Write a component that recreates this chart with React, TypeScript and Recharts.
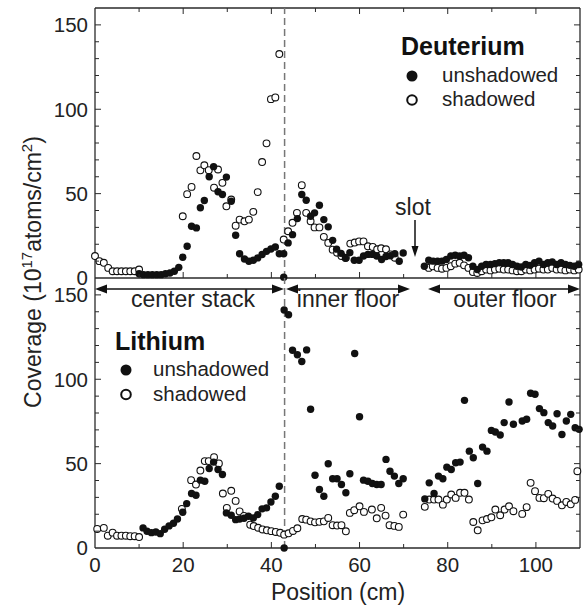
import React from "react";
import { ScatterChart, Scatter, XAxis, YAxis, ReferenceLine } from "recharts";

// ---------- data ----------
const deutShadowed: [number, number][] = [
  [0, 13], [1, 10], [2, 9], [3, 6], [4, 4], [5, 4], [6, 4], [7, 4], [8, 4], [9, 4], [10, 5],
  [19.9, 36.6], [20.9, 49.7], [21.9, 54], [23, 72.3], [23.9, 63.8], [24.8, 66.8], [25.8, 63.9],
  [27, 53.5], [27.9, 64.3], [28.9, 56.4], [29.8, 42.5], [30.9, 46.5], [31.9, 31], [32.8, 34.6],
  [33.9, 33.6], [34.9, 34.6], [35.9, 39.2], [36.9, 50.9], [37.9, 68.7], [38.9, 79.8], [39.9, 106],
  [40.9, 107], [41.8, 132.7],
  [42.8, 22.8], [43.8, 27.7], [44.8, 32.7], [45.8, 38.6], [46.9, 55], [47.9, 38.6], [48.9, 33.6],
  [49.8, 30], [50.9, 30], [51.9, 24.4], [52.9, 20.8], [53.9, 16.8], [54.9, 15], [55.9, 13], [56.9, 12],
  [57.9, 20.4], [58.9, 21], [59.9, 21.7], [60.9, 21.7], [61.9, 18.8], [63, 18.4], [64, 17], [64.9, 17.6],
  [66, 17], [67, 14], [68, 12],
  [75.7, 6], [76.6, 6.9], [77.7, 6], [78.7, 5.5], [79.7, 6], [80.7, 7], [81.7, 8.5], [82.7, 9],
  [83.7, 7.5], [84.7, 6], [85.7, 3.5], [86.7, 3], [87.7, 4], [88.7, 5], [89.7, 4.5], [90.7, 5],
  [91.7, 5.5], [92.7, 5], [93.7, 5], [94.7, 4.5], [95.7, 4], [96.7, 4], [97.7, 5], [98.7, 4.5],
  [99.7, 5], [100.7, 5.5], [101.7, 5], [102.7, 5], [103.7, 6], [104.7, 5], [105.7, 5], [106.7, 4.5],
  [107.7, 5], [108.7, 4.5], [109.7, 5],
];

const deutUnshadowed: [number, number][] = [
  [10, 2.5], [11, 2], [12, 2], [13, 2], [14, 2], [15, 2], [16, 2.5], [17, 3], [18, 4], [19, 6.3],
  [19.9, 12.3], [20.9, 18.8], [21.9, 30.7], [23, 29.7], [23.9, 41.6], [24.8, 45.9], [25.9, 60],
  [26.9, 66], [27.9, 51.1], [28.9, 49.5], [29.8, 59.8], [30.9, 45.5], [31.9, 25.3], [32.8, 14.4],
  [33.9, 11.3], [34.9, 9.9], [35.9, 10.5], [36.9, 11.9], [37.9, 13.9], [38.9, 15.8], [39.9, 17.2],
  [40.9, 18.4], [41.8, 14.4], [42.8, 14.4], [42.8, 0.5], [43.8, 20.8], [44.8, 25.7], [45.9, 35.2],
  [46.9, 49.5], [47.9, 46.1], [48.9, 36.6], [49.8, 38.6], [50.9, 43.1], [51.9, 34.6], [52.9, 30.3],
  [53.9, 22.3], [54.8, 17.1], [55.8, 14.6], [56.8, 11.7], [57.8, 15], [58.8, 10.5], [59.9, 10.5],
  [60.9, 13], [61.9, 14], [62.9, 14], [63.9, 13], [65, 11], [66, 12.7], [67, 13.2], [68, 14.4],
  [69, 9.9], [69.9, 14.8],
  [74.7, 7], [75.7, 10.5], [76.7, 10], [77.7, 10], [78.7, 10], [79.7, 11], [80.7, 13], [81.7, 13.5],
  [82.7, 13], [83.7, 13.5], [84.7, 12], [85.7, 7], [86.7, 5], [87.7, 7], [88.7, 8], [89.7, 8],
  [90.7, 8.5], [91.7, 9], [92.7, 9], [93.7, 9], [94.7, 8], [95.7, 7], [96.7, 6.5], [97.7, 8],
  [98.7, 7.5], [99.7, 9], [100.7, 10], [101.7, 8], [102.7, 9], [103.7, 9.5], [104.7, 8], [105.7, 9],
  [106.7, 8], [107.7, 7.5], [108.7, 7], [109.7, 8],
];

const liShadowed: [number, number][] = [
  [0.5, 11.3], [2, 11.9], [2.9, 7.3], [4, 9.1], [5, 7.3], [6, 7.3], [7, 7.3], [8, 7], [9, 7], [10, 6.5],
  [19.7, 23.2], [21.8, 40.2], [22.9, 37.6], [23.9, 45.9], [24.9, 51.5], [25.8, 51.5], [27, 53.8],
  [28.1, 50.1], [29, 32.3], [29.9, 23.8], [30.9, 33.9], [31.9, 27.9], [32.8, 21.7], [33.8, 19],
  [35.2, 13.8], [36, 13], [37, 12], [38, 11], [39, 10.5], [40, 10], [41, 9.5], [42, 9], [42.9, 7.9],
  [43.9, 8.7], [44.9, 10.1], [45.9, 11.7], [47, 17.2], [47.9, 16.8], [48.9, 15.8], [49.9, 15.2],
  [50.9, 15.5], [51.9, 15.8], [52.9, 17.8], [53.9, 13.5], [54.9, 13.3], [55.9, 13.5], [56.9, 9.9],
  [57.8, 20.8], [58.8, 22.4], [60, 24.7], [61, 21.4], [62.8, 22.8], [63.9, 17.6], [64.9, 23.8],
  [65.9, 19.2], [66.8, 13.5], [67.9, 13.1], [68.9, 12.5], [69.9, 19.8],
  [74.8, 24.4], [75.8, 28.7], [76.9, 28.7], [77.9, 28.7], [78.9, 25.7], [79.8, 28.7], [80.8, 31.7],
  [81.8, 29.7], [82.8, 32.7], [83.8, 32.7], [84.8, 28.7], [85.8, 15.4], [86.8, 10.5], [87.9, 16.4],
  [88.9, 17.2], [89.9, 18.2], [90.8, 22.8], [91.9, 19.4], [92.9, 22.8], [93.9, 24.7], [94.9, 21.8],
  [96.9, 20.2], [97.9, 24.2], [98.8, 38.6], [99.8, 33.7], [100.8, 29.7], [101.8, 29.5], [102.8, 32.1],
  [103.8, 29.3], [104.8, 27.9], [105.9, 25.3], [106.9, 27.3], [107.9, 25.9], [108.9, 28.5], [109.4, 45.5],
];

const liUnshadowed: [number, number][] = [
  [10.9, 11.9], [11.8, 9.9], [12.8, 9.1], [13.8, 9.5], [14.8, 8.5], [15.8, 11.1], [16.8, 13.1],
  [17.8, 14.7], [18.7, 17.2], [19.9, 21.2], [20.8, 26.3], [21.9, 32.3], [22.9, 31.3], [23.9, 40.2],
  [24.9, 39.6], [25.9, 47.1], [26.9, 50.9], [27.9, 46.5], [28.9, 43.6], [29.8, 20.8], [30.9, 19.4],
  [31.9, 16.8], [32.8, 17.2], [33.8, 17.6], [34.8, 18.8], [35.9, 17.8], [36.9, 19.8], [37.9, 23.2],
  [38.9, 23.8], [39.9, 27.3], [40.9, 30.7], [41.8, 36.6], [42.9, 0], [42.9, 141], [43.9, 138.2],
  [44.8, 117.2], [45.9, 114.5], [46.9, 110.5], [48, 117.4], [48.9, 82.2], [49.9, 43.1], [50.9, 34.7],
  [51.9, 30.7], [52.9, 49.9], [53.9, 41], [54.9, 41], [55.9, 37.6], [56.9, 32.7], [57.8, 44],
  [58.9, 115.3], [60, 77.8], [60.9, 40.2], [61.9, 39.6], [62.9, 38.2], [63.9, 37.6], [64.9, 37.6],
  [66, 52.5], [66.9, 45.5], [67.9, 42.6], [68.9, 38.2], [69.9, 41],
  [74.8, 29.1], [75.8, 38.6], [76.9, 32.3], [77.9, 42.6], [78.9, 41], [79.8, 47.9], [80.8, 46.5],
  [81.8, 50.5], [82.8, 50.9], [83.8, 87.5], [84.9, 57.4], [85.8, 53.5], [86.8, 38.2], [87.9, 59.8],
  [88.9, 57.4], [89.9, 69.7], [90.8, 68.7], [91.9, 67], [92.8, 74.3], [93.9, 86.5], [94.9, 73.3],
  [96.9, 75.3], [97.9, 76.3], [98.8, 91.7], [99.8, 91.1], [100.8, 82.6], [101.8, 80.2], [102.8, 74.3],
  [103.8, 72.3], [104.8, 79.6], [105.9, 67.3], [106.9, 75.3], [107.9, 79.2], [108.9, 71.3], [109.8, 70.3],
];

const X_TICKS = [0, 10, 20, 30, 40, 50, 60, 70, 80, 90, 100, 110];
const X_LABELS = [0, 20, 40, 60, 80, 100];
const Y_TICKS = [0, 10, 20, 30, 40, 50, 60, 70, 80, 90, 100, 110, 120, 130, 140, 150];
const Y_LABELS = [0, 50, 100, 150];
const X_DOMAIN: [number, number] = [0, 110];
const Y_DOMAIN: [number, number] = [0, 160];
const DIVIDER_X = 43;

// ---------- style ----------
const FONT = "'Liberation Sans', Arial, Helvetica, sans-serif";
const AX = "#2a2a2a";
const W = 587;
const PLOT_LEFT = 95;
const PLOT_RIGHT = 580;
const TOP_PLOT_TOP = 8;

const toPts = (arr: [number, number][]) => arr.map(([x, y]) => ({ x, y }));

const FilledDot = (p: any) =>
  p.cx == null ? null : <circle cx={p.cx} cy={p.cy} r={3.7} fill="#111" />;
const OpenDot = (p: any) =>
  p.cx == null ? null : (
    <circle cx={p.cx} cy={p.cy} r={3.4} fill="#fff" stroke="#111" strokeWidth={1.1} />
  );

const YTick = (p: any) => {
  const { x, y, payload } = p;
  const v = payload.value;
  const major = Y_LABELS.includes(v);
  const len = major ? 6 : 4;
  return (
    <g>
      {v !== 0 && <line x1={x} y1={y} x2={x + len} y2={y} stroke={AX} strokeWidth={1} />}
      {v !== 0 && (
        <line x1={PLOT_RIGHT} y1={y} x2={PLOT_RIGHT - len} y2={y} stroke={AX} strokeWidth={1} />
      )}
      {major && (
        <text x={x - 7} y={y} dy="0.36em" textAnchor="end" fontFamily={FONT} fontSize={20.5} fill="#222">
          {v}
        </text>
      )}
    </g>
  );
};

const XTickTop = (p: any) => {
  const { x, y, payload } = p;
  const v = payload.value;
  if (v === 0 || v === 110) return <g />;
  const len = v % 20 === 0 ? 6 : 4;
  return (
    <g>
      <line x1={x} y1={y} x2={x} y2={y - len} stroke={AX} strokeWidth={1} />
      <line x1={x} y1={TOP_PLOT_TOP} x2={x} y2={TOP_PLOT_TOP + len} stroke={AX} strokeWidth={1} />
    </g>
  );
};

const XTickBottom = (p: any) => {
  const { x, y, payload } = p;
  const v = payload.value;
  const major = X_LABELS.includes(v);
  const len = v % 20 === 0 ? 6 : 4;
  return (
    <g>
      {v !== 0 && v !== 110 && <line x1={x} y1={y} x2={x} y2={y - len} stroke={AX} strokeWidth={1} />}
      {major && (
        <text x={x} y={y + 24} textAnchor="middle" fontFamily={FONT} fontSize={20.5} fill="#222">
          {v}
        </text>
      )}
    </g>
  );
};

const hArrow = (x1: number, x2: number, y: number, key: string) => {
  const h = 12;
  const w = 4.5;
  return (
    <g key={key}>
      <line x1={x1 + h - 1} y1={y} x2={x2 - h + 1} y2={y} stroke="#111" strokeWidth={1.6} />
      <polygon points={`${x1},${y} ${x1 + h},${y - w} ${x1 + h},${y + w}`} fill="#111" />
      <polygon points={`${x2},${y} ${x2 - h},${y - w} ${x2 - h},${y + w}`} fill="#111" />
    </g>
  );
};

export default function App() {
  const dS = toPts(deutShadowed);
  const dU = toPts(deutUnshadowed);
  const lS = toPts(liShadowed);
  const lU = toPts(liUnshadowed);

  return (
    <div style={{ position: "absolute", left: 0, top: 0, width: W, height: 609, background: "#fff" }}>
      {/* Top panel: Deuterium */}
      <div style={{ position: "absolute", left: 0, top: 0 }}>
        <ScatterChart width={W} height={290} margin={{ top: TOP_PLOT_TOP, right: W - PLOT_RIGHT, bottom: 0, left: 0 }}>
          <XAxis
            dataKey="x"
            type="number"
            domain={X_DOMAIN}
            ticks={X_TICKS}
            interval={0}
            height={12}
            tickSize={0}
            tickMargin={0}
            tickLine={false}
            axisLine={{ stroke: AX, strokeWidth: 1.3 }}
            tick={(p: any) => <XTickTop {...p} />}
          />
          <YAxis
            dataKey="y"
            type="number"
            domain={Y_DOMAIN}
            ticks={Y_TICKS}
            interval={0}
            width={PLOT_LEFT}
            tickSize={0}
            tickMargin={0}
            tickLine={false}
            axisLine={{ stroke: AX, strokeWidth: 1.3 }}
            tick={(p: any) => <YTick {...p} />}
          />
          <ReferenceLine y={160} stroke={AX} strokeWidth={1.3} />
          <ReferenceLine x={110} stroke={AX} strokeWidth={1.3} />
          <ReferenceLine x={DIVIDER_X} stroke="#777" strokeWidth={1.5} strokeDasharray="7 4" />
          <Scatter data={dS} shape={OpenDot} isAnimationActive={false} />
          <Scatter data={dU} shape={FilledDot} isAnimationActive={false} />
        </ScatterChart>
      </div>

      {/* Bottom panel: Lithium */}
      <div style={{ position: "absolute", left: 0, top: 278 }}>
        <ScatterChart width={W} height={331} margin={{ top: 0, right: W - PLOT_RIGHT, bottom: 0, left: 0 }}>
          <XAxis
            dataKey="x"
            type="number"
            domain={X_DOMAIN}
            ticks={X_TICKS}
            interval={0}
            height={61}
            tickSize={0}
            tickMargin={0}
            tickLine={false}
            axisLine={{ stroke: AX, strokeWidth: 1.3 }}
            tick={(p: any) => <XTickBottom {...p} />}
          />
          <YAxis
            dataKey="y"
            type="number"
            domain={Y_DOMAIN}
            ticks={Y_TICKS}
            interval={0}
            width={PLOT_LEFT}
            tickSize={0}
            tickMargin={0}
            tickLine={false}
            axisLine={{ stroke: AX, strokeWidth: 1.3 }}
            tick={(p: any) => <YTick {...p} />}
          />
          <ReferenceLine x={110} stroke={AX} strokeWidth={1.3} />
          <ReferenceLine x={DIVIDER_X} stroke="#777" strokeWidth={1.5} strokeDasharray="7 4" />
          <Scatter data={lS} shape={OpenDot} isAnimationActive={false} />
          <Scatter data={lU} shape={FilledDot} isAnimationActive={false} />
        </ScatterChart>
      </div>

      {/* Annotations */}
      <svg
        width={W}
        height={609}
        style={{ position: "absolute", left: 0, top: 0, pointerEvents: "none" }}
        fontFamily={FONT}
      >
        {/* Y title */}
        <text transform="translate(41,272) rotate(-90)" textAnchor="middle" fontSize={23} fill="#222">
          Coverage (10
          <tspan dy={-9} fontSize={15}>17</tspan>
          <tspan dy={9}>atoms/cm</tspan>
          <tspan dy={-9} fontSize={15}>2</tspan>
          <tspan dy={9}>)</tspan>
        </text>
        {/* X title */}
        <text x={338} y={600} textAnchor="middle" fontSize={23} fill="#222">
          Position (cm)
        </text>

        {/* Deuterium legend */}
        <text x={401} y={55} fontSize={25} fontWeight="bold" fill="#111">Deuterium</text>
        <circle cx={412} cy={76} r={5.5} fill="#111" />
        <text x={442} y={82} fontSize={20.5} fill="#222">unshadowed</text>
        <circle cx={412} cy={100} r={4.8} fill="#fff" stroke="#111" strokeWidth={2} />
        <text x={442} y={106} fontSize={20.5} fill="#222">shadowed</text>

        {/* Lithium legend */}
        <text x={115} y={350} fontSize={25} fontWeight="bold" fill="#111">Lithium</text>
        <circle cx={126} cy={370} r={5.5} fill="#111" />
        <text x={153} y={376} fontSize={20.5} fill="#222">unshadowed</text>
        <circle cx={126} cy={394.5} r={4.8} fill="#fff" stroke="#111" strokeWidth={2} />
        <text x={153} y={401} fontSize={20.5} fill="#222">shadowed</text>

        {/* region arrows */}
        {hArrow(95, 284, 289, "cs")}
        {hArrow(286, 410, 289, "if")}
        {hArrow(428, 580, 289, "of")}
        <text x={193} y={307} textAnchor="middle" fontSize={23} fill="#222">center stack</text>
        <text x={348} y={307} textAnchor="middle" fontSize={23} fill="#222">inner floor</text>
        <text x={505} y={307} textAnchor="middle" fontSize={23} fill="#222">outer floor</text>

        {/* slot */}
        <text x={413} y={215} textAnchor="middle" fontSize={23} fill="#222">slot</text>
        <line x1={415} y1={220} x2={415} y2={248} stroke="#111" strokeWidth={1.5} />
        <polygon points="415,257 411.5,246 418.5,246" fill="#111" />
      </svg>
    </div>
  );
}
